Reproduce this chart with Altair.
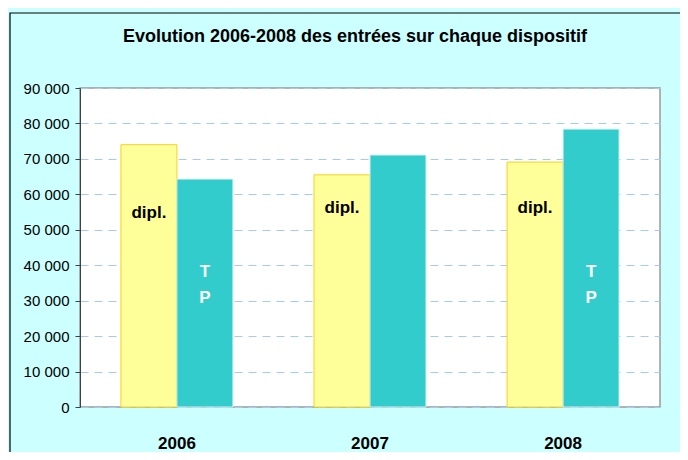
import altair as alt
import pandas as pd

years = ["2006", "2007", "2008"]
series = ["dipl.", "TP"]
dipl_values = [74000, 65500, 69100]
tp_values = [64300, 71100, 78400]
y_ticks = [0, 10000, 20000, 30000, 40000, 50000, 60000, 70000, 80000, 90000]

# in-bar annotations (text, year, series, level in data units)
dipl_label_years = ["2006", "2007", "2008"]
dipl_label_levels = [54700, 56100, 56100]
tp_label_years = ["2006", "2008"]
tp_label_levels = [38000, 38000]

rows = []
for i, yr in enumerate(years):
    rows.append({"year": yr, "series": "dipl.", "value": dipl_values[i]})
    rows.append({"year": yr, "series": "TP", "value": tp_values[i]})
df = pd.DataFrame(rows)

dipl_lab = pd.DataFrame({"year": dipl_label_years, "series": "dipl.",
                         "level": dipl_label_levels, "txt": "dipl."})
tp_lab = pd.DataFrame({"year": tp_label_years, "series": "TP",
                       "level": tp_label_levels})
tp_lab["txt"] = [["T", "P"]] * len(tp_lab)

W, H = 580, 319
PAD = {"left": 72, "top": 80, "right": 20, "bottom": 45}

x_axis = alt.Axis(title=None, domain=False, ticks=False, grid=False,
                  labelFontSize=17, labelFontWeight="bold",
                  labelFont="Liberation Sans", labelColor="#000000",
                  labelPadding=28, labelAngle=0)
x_scale = alt.Scale(paddingInner=0.42, paddingOuter=0.212)
xoff = alt.XOffset("series:N", sort=series, scale=alt.Scale(paddingInner=0, paddingOuter=0))
y_scale = alt.Scale(domain=[0, 90000], nice=False)
y_axis = alt.Axis(title=None, values=y_ticks, labelOverlap=False,
                  labelExpr="datum.value == 0 ? '0' : format(datum.value/1000, 'd') + ' 000'",
                  labelFontSize=15, labelFont="Liberation Sans", labelColor="#000000",
                  labelPadding=6, tickSize=5, tickColor="#404040",
                  domainColor="#404040",
                  grid=True, gridColor="#A4CBF4", gridDash=[8, 6], gridWidth=1)

bars = alt.Chart(df).mark_bar(strokeWidth=1).encode(
    x=alt.X("year:N", sort=years, scale=x_scale, axis=x_axis),
    xOffset=xoff,
    y=alt.Y("value:Q", scale=y_scale, axis=y_axis),
    fill=alt.Fill("series:N", sort=series,
                  scale=alt.Scale(domain=series, range=["#FFFF99", "#33CCCC"]), legend=None),
    stroke=alt.Stroke("series:N", sort=series,
                      scale=alt.Scale(domain=series, range=["#F5D21E", "#D8F0F0"]), legend=None),
)

dipl_text = alt.Chart(dipl_lab).mark_text(
    fontSize=17, fontWeight="bold", font="Liberation Sans", color="#000000", baseline="middle"
).encode(
    x=alt.X("year:N", sort=years, scale=x_scale, axis=x_axis),
    xOffset=xoff,
    y=alt.Y("level:Q", scale=y_scale, axis=y_axis),
    text="txt:N",
)

tp_text = alt.Chart(tp_lab).mark_text(
    fontSize=17, fontWeight="bold", font="Liberation Sans", color="#FFFFFF",
    baseline="middle", lineHeight=26
).encode(
    x=alt.X("year:N", sort=years, scale=x_scale, axis=x_axis),
    xOffset=xoff,
    y=alt.Y("level:Q", scale=y_scale, axis=y_axis),
    text="txt",
)

frame = alt.Chart(pd.DataFrame({"f": [0]})).mark_rect(
    fill="transparent", stroke="#000000", strokeWidth=1.2
).encode(
    x=alt.value(-70), y=alt.value(-75), x2=alt.value(W + 40), y2=alt.value(H + 70)
)

chart = alt.layer(frame, bars, dipl_text, tp_text).properties(
    width=W, height=H,
    autosize=alt.AutoSizeParams(type="none"),
    padding=PAD,
    background="#CCFFFF",
    title=alt.TitleParams("Evolution 2006-2008 des entrées sur chaque dispositif",
                          font="Liberation Sans", fontSize=18, fontWeight="bold",
                          color="#000000", anchor="middle", frame="group", dx=-15, offset=-34),
).configure_view(fill="#FFFFFF", stroke="#9A9A9A", strokeWidth=1.5)

chart.save("out.html", embed_options={"renderer": "svg", "actions": False})
